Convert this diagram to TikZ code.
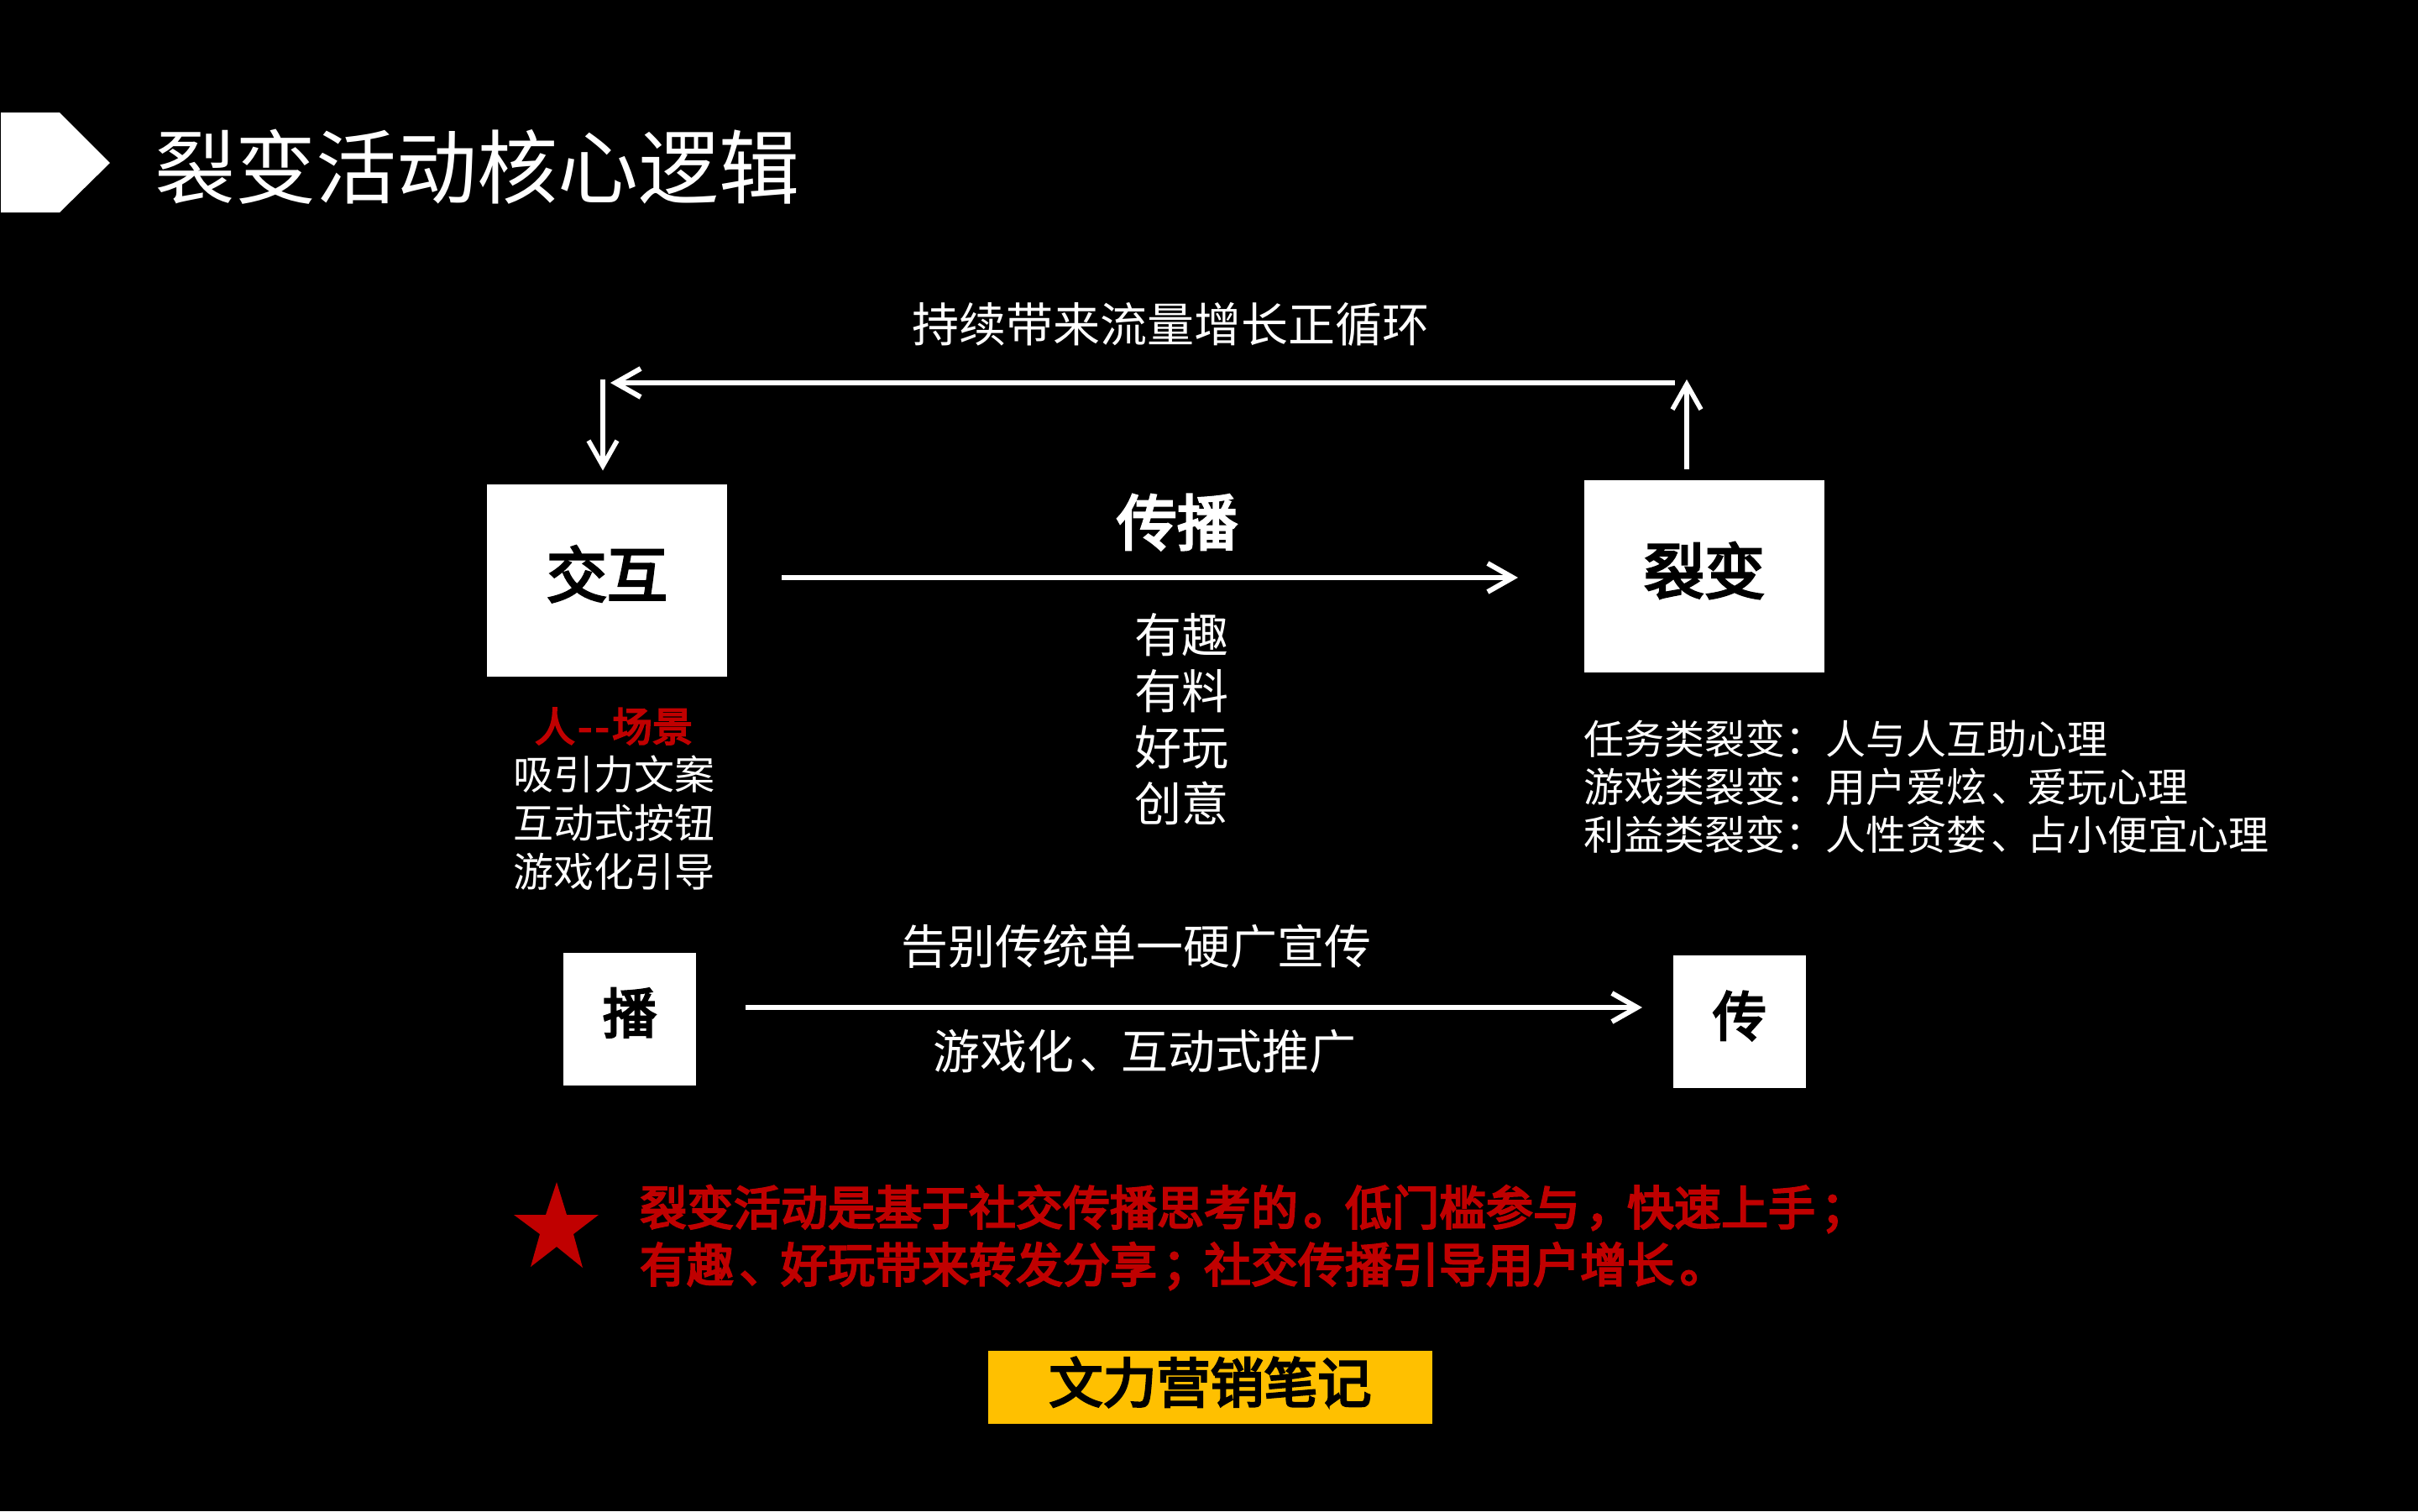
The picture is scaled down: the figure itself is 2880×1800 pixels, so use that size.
\documentclass[tikz,border=0pt]{standalone}
\usepackage{fontspec}
\setmainfont{Noto Sans CJK SC}
\newfontfamily\cjkheavy{Noto Sans CJK SC}[FakeBold=4]
\usetikzlibrary{arrows.meta}
\definecolor{redtxt}{HTML}{C00000}
\definecolor{goldbox}{HTML}{FFC000}
\newcommand{\fs}[1]{\fontsize{#1}{#1}\selectfont}
\newcommand{\pz}[1]{\kern.12em #1\kern-.12em }
\tikzset{
  x=0.25pt,y=-0.25pt,
  txt/.style={inner sep=0pt,outer sep=0pt,text=white,align=center},
  whitebox/.style={fill=white,inner sep=0pt,outer sep=0pt,text=black,font=\fs{18}\cjkheavy},
  bigbox/.style={whitebox,minimum width=71.5pt,minimum height=57.25pt},
  smallbox/.style={whitebox,minimum width=39.5pt,minimum height=39.5pt,font=\fs{16}\cjkheavy},
  flow/.style={draw=white,line width=1.5pt,-{Straight Barb[length=7.5pt,width=8.5pt,line width=1.5pt]}},
  stub/.style={draw=white,line width=1.3pt,-{Straight Barb[length=7.5pt,width=8.5pt,line width=1.4pt]}},
}
\begin{document}
\begin{tikzpicture}
\useasboundingbox (0,0) rectangle (2880,1800);
\fill[black] (0,0) rectangle (2880,1800);
% title marker
\fill[white] (1,134) -- (71,134) -- (131,194) -- (71,253) -- (1,253) -- cycle;
\node[txt,font=\fs{24}] (title) at (568,199) {裂变活动核心逻辑};
% boxes
\node[bigbox] (jh) at (723,691) {\raisebox{5.1pt}{交互}};
\node[bigbox] (lb) at (2030,686) {\raisebox{4.7pt}{裂变}};
\node[smallbox] (bo) at (750,1214) {\raisebox{5.1pt}{播}};
\node[smallbox] (ch) at (2072,1217) {\raisebox{4.8pt}{传}};
% top loop
\node[txt,font=\fs{14}] (loop) at (1394,386) {持续带来流量增长正循环};
\coordinate (loopR) at (1995,456);
\coordinate (loopL) at (727,456);
\coordinate (downS) at (718,452);
\coordinate (upE) at (2009,452);
\draw[flow] (loopR) -- (loopL);
\draw[stub,shorten >=16*0.25pt] (downS) -- (downS |- jh.north);
\draw[stub,shorten <=13*0.25pt] (upE |- lb.north) -- (upE);
% middle arrow
\coordinate (midY) at (0,688);
\draw[flow,shorten <=65*0.25pt,shorten >=79*0.25pt] (jh.east |- midY) -- (lb.west |- midY);
\node[txt,font=\fs{18}\cjkheavy] (cb) at (1402,622) {传播};
\node[txt,font=\fs{14}] (c1) at (1407,756) {有趣};
\node[txt,font=\fs{14}] (c2) at (1407,823) {有料};
\node[txt,font=\fs{14}] (c3) at (1407,890) {好玩};
\node[txt,font=\fs{14}] (c4) at (1407,957) {创意};
% left list
\node[txt,font=\fs{12}\cjkheavy,text=redtxt] (l0) at (731,865) {人\kern.9pt{-}\kern.9pt{-}\kern.9pt场景};
\node[txt,font=\fs{12}] (l1) at (731,922) {吸引力文案};
\node[txt,font=\fs{12}] (l2) at (731,980) {互动式按钮};
\node[txt,font=\fs{12}] (l3) at (731,1038) {游戏化引导};
% right list
\node[txt,font=\fs{12},anchor=west] (r1) at (1886,880) {任务类裂变：人与人互助心理};
\node[txt,font=\fs{12},anchor=west] (r2) at (1886,937) {游戏类裂变：用户爱炫\pz{、}爱玩心理};
\node[txt,font=\fs{12},anchor=west] (r3) at (1886,994) {利益类裂变：人性贪婪\pz{、}占小便宜心理};
% lower arrow
\coordinate (lowY) at (0,1200);
\draw[flow,shorten <=59*0.25pt,shorten >=37*0.25pt] (bo.east |- lowY) -- (ch.west |- lowY);
\node[txt,font=\fs{14}] (u1) at (1353,1127) {告别传统单一硬广宣传};
\node[txt,font=\fs{14}] (u2) at (1363,1252) {游戏化\pz{、}互动式推广};
% star
\fill[redtxt] (663,1408) -- (675,1447) -- (713,1447) -- (683,1470) -- (694,1510) -- (663,1485) -- (632,1509) -- (643,1470) -- (612,1447) -- (650,1447) -- cycle;
\node[txt,font=\fs{14}\cjkheavy,text=redtxt,anchor=west] (n1) at (762,1440) {裂变活动是基于社交传播思考的\pz{。}低门槛参与\pz{，}快速上手\pz{；}};
\node[txt,font=\fs{14}\cjkheavy,text=redtxt,anchor=west] (n2) at (762,1508) {有趣\pz{、}好玩带来转发分享\pz{；}社交传播引导用户增长\pz{。}};
% footer
\node[fill=goldbox,inner sep=0pt,outer sep=0pt,minimum width=132.25pt,minimum height=21.75pt,text=black,font=\fs{16}\cjkheavy] (ft) at (1441.5,1652.5) {\raisebox{4.4pt}{文力营销笔记}};
\end{tikzpicture}
\end{document}
